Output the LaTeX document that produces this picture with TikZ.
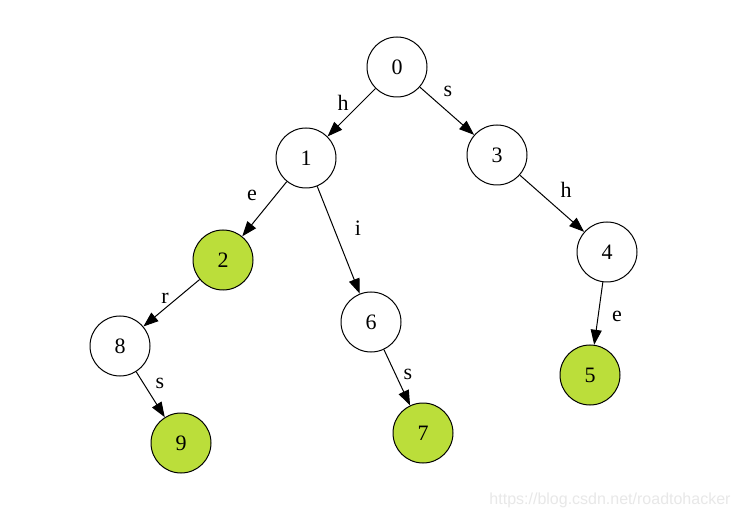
\documentclass[tikz,border=0pt]{standalone}
\usepackage{fontspec}
\setmainfont{Liberation Serif}
\newfontfamily\wmfont{Liberation Sans}
\usetikzlibrary{arrows.meta}
\definecolor{leafgreen}{RGB}{187,222,58}
\definecolor{wmgray}{RGB}{232,232,232}
\tikzset{
  st/.style={circle,draw=black,line width=1pt,minimum size=60pt,inner sep=0pt,font=\fontsize{22}{24}\selectfont},
  acc/.style={st,fill=leafgreen},
  tr/.style={-{Triangle[length=15pt,width=11pt]},line width=1pt,shorten >=0pt},
  lbl/.style={font=\fontsize{22}{24}\selectfont,inner sep=0pt}
}
\begin{document}
\begin{tikzpicture}[x=1pt,y=-1pt]
\useasboundingbox[fill=white] (0,0) rectangle (739,521);
\node[st] (n0) at (397,67) {0};
\node[st] (n1) at (306,158) {1};
\node[st] (n3) at (497,155) {3};
\node[acc] (n2) at (223,260) {2};
\node[st] (n6) at (371,322) {6};
\node[st] (n4) at (607,252) {4};
\node[st] (n8) at (120,346) {8};
\node[acc] (n5) at (590,375) {5};
\node[acc] (n9) at (181,443) {9};
\node[acc] (n7) at (423,433) {7};
\draw[tr] (n0) -- (n1);
\draw[tr] (n0) -- (n3);
\draw[tr] (n1) -- (n2);
\draw[tr] (n1) -- (n6);
\draw[tr] (n3) -- (n4);
\draw[tr] (n2) -- (n8);
\draw[tr] (n4) -- (n5);
\draw[tr] (n8) -- (n9);
\draw[tr] (n6) -- (n7);
\node[lbl] (l01) at (343,103) {h};
\node[lbl] (l03) at (448,91) {s};
\node[lbl] (l12) at (252,195) {e};
\node[lbl] (l16) at (358,228) {i};
\node[lbl] (l34) at (566,190) {h};
\node[lbl] (l28) at (165,298) {r};
\node[lbl] (l45) at (617,316) {e};
\node[lbl] (l89) at (160,383) {s};
\node[lbl] (l67) at (408,374) {s};
\node[font=\wmfont\fontsize{16}{18}\selectfont,text=wmgray,inner sep=0pt] (wm) at (610,500) {https://blog.csdn.net/roadtohacker};
\end{tikzpicture}
\end{document}
